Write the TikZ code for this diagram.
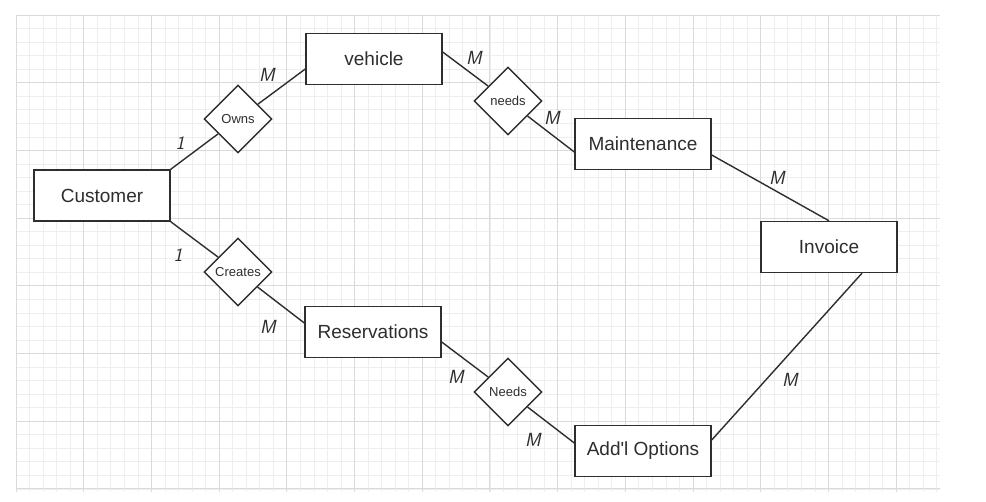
\documentclass[tikz,border=0pt]{standalone}
\usepackage{fontspec}
\setmainfont{Liberation Sans}[Ligatures=TeXOff]
\usetikzlibrary{shapes.geometric,calc}
\definecolor{ink}{HTML}{2E2E2E}
\definecolor{gridminor}{HTML}{EEEEEE}
\definecolor{gridmajor}{HTML}{DADADA}
\tikzset{
  entity/.style={draw=ink, line width=1.4pt, fill=white, minimum width=136pt, minimum height=51pt, inner sep=0pt, text=ink, font=\fontsize{19}{22}\selectfont},
  relation/.style={draw=ink, line width=1.4pt, fill=white, diamond, aspect=1, minimum width=68pt, minimum height=68pt, inner sep=0pt, text=ink, font=\fontsize{13}{15}\selectfont},
  link/.style={draw=ink, line width=1.4pt},
  card/.style={text=ink, inner sep=0pt, font=\fontsize{19}{22}\selectfont\sffamily\slshape}
}
\begin{document}
\begin{tikzpicture}[x=1pt,y=-1pt]
\useasboundingbox (0,0) rectangle (986,502);
\fill[white] (0,0) rectangle (986,502);
% grid
\foreach \i in {0,...,68} {\draw[gridminor, line width=0.7pt] ({16+\i*13.54},15) -- ({16+\i*13.54},492);}
\foreach \j in {0,...,35} {\draw[gridminor, line width=0.7pt] (16,{15+\j*13.54}) -- (940,{15+\j*13.54});}
\foreach \i in {0,...,13} {\draw[gridmajor, line width=0.9pt] ({16+\i*67.7},15) -- ({16+\i*67.7},492);}
\foreach \j in {0,...,7} {\draw[gridmajor, line width=0.9pt] (16,{15+\j*67.7}) -- (940,{15+\j*67.7});}
% entities
\node[entity] (cust) at (102,195.5) {Customer};
\node[entity] (veh) at (374,59) {vehicle};
\node[entity] (maint) at (643,144) {Maintenance};
\node[entity] (inv) at (829,247) {Invoice};
\node[entity] (res) at (373,332) {Reservations};
\node[entity] (addl) at (643,451) {Add'l Options};
% relations
\node[relation] (owns) at (238,119) {Owns};
\node[relation] (needs) at (508,101) {needs};
\node[relation] (creates) at (238,272) {Creates};
\node[relation] (needs2) at (508,392) {Needs};
% connectors
\draw[link] (cust.north east) -- (owns);
\draw[link] (owns) -- ($(veh.west)+(0,10)$);
\draw[link] ($(veh.east)+(0,-7)$) -- (needs);
\draw[link] (needs) -- ($(maint.west)+(0,8)$);
\draw[link] (cust.south east) -- (creates);
\draw[link] (creates) -- ($(res.west)+(0,-9)$);
\draw[link] ($(res.east)+(0,10)$) -- (needs2);
\draw[link] (needs2) -- ($(addl.west)+(0,-8)$);
\draw[link] ($(maint.east)+(0,11)$) -- (inv.north);
\draw[link] ($(addl.east)+(0,-11)$) -- ($(inv.south)+(33,0)$);
% cardinalities
\node[card] (c1) at (180,143) {1};
\node[card] (c2) at (267,75) {M};
\node[card] (c3) at (474,58) {M};
\node[card] (c4) at (552,118) {M};
\node[card] (c5) at (777,178) {M};
\node[card] (c6) at (790,380) {M};
\node[card] (c7) at (178,255) {1};
\node[card] (c8) at (268,327) {M};
\node[card] (c9) at (456,377) {M};
\node[card] (c10) at (533,440) {M};
\end{tikzpicture}
\end{document}
